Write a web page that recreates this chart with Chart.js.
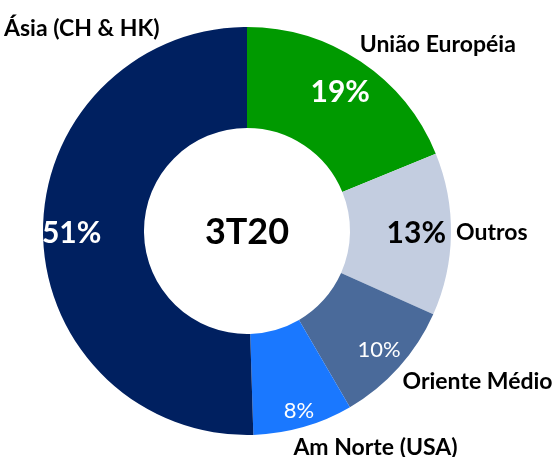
<!DOCTYPE html>
<html>
<head>
<meta charset="utf-8">
<script src="https://cdn.jsdelivr.net/npm/chart.js@4/dist/chart.umd.min.js"></script>
<style>
  html, body { margin: 0; padding: 0; background: #fff; }
  canvas { display: block; }
</style>
</head>
<body>
<canvas id="chart" width="558" height="457"></canvas>
<script>
  // regions, clockwise from 12 o'clock
  var regions = ["União Européia", "Outros", "Oriente Médio", "Am Norte (USA)", "Ásia (CH & HK)"];
  var shares = [19, 13, 10, 8, 51];
  var colors = ["#009A00", "#C3CDE0", "#4A6A9A", "#1A78FF", "#002060"];
  var centerTitle = "3T20";

  // label look: value text (radius fraction, font, colour) and name anchor relative to centre (in radii)
  var valueStyle = [
    { r: 0.82, font: "bold 30px Lato", color: "#fff" },
    { r: 0.83, font: "bold 30px Lato", color: "#000" },
    { r: 0.87, font: "22px Lato", color: "#fff" },
    { r: 0.92, font: "22px Lato", color: "#fff" },
    { r: 0.86, font: "bold 30px Lato", color: "#fff" }
  ];
  var nameAnchor = [
    { x: 0.935, y: -0.915 },
    { x: 1.20, y: 0.01 },
    { x: 1.13, y: 0.74 },
    { x: 0.63, y: 1.06 },
    { x: -0.81, y: -0.99 }
  ];

  var labelPlugin = {
    id: "donutLabels",
    afterDraw: function (chart) {
      var ctx = chart.ctx;
      var arcs = chart.getDatasetMeta(0).data;
      ctx.save();
      ctx.textAlign = "center";
      ctx.textBaseline = "middle";
      arcs.forEach(function (arc, i) {
        var p = arc.getProps(["x", "y", "startAngle", "endAngle", "outerRadius"], true);
        var mid = (p.startAngle + p.endAngle) / 2;
        var st = valueStyle[i];
        ctx.font = st.font;
        ctx.fillStyle = st.color;
        ctx.fillText(shares[i] + "%", p.x + Math.cos(mid) * p.outerRadius * st.r,
          p.y + Math.sin(mid) * p.outerRadius * st.r);
        ctx.font = "bold 23px Lato";
        ctx.fillStyle = "#000";
        ctx.fillText(regions[i], p.x + nameAnchor[i].x * p.outerRadius,
          p.y + nameAnchor[i].y * p.outerRadius);
      });
      var a0 = arcs[0];
      ctx.font = "bold 36px Lato";
      ctx.fillStyle = "#000";
      ctx.fillText(centerTitle, a0.x, a0.y + 1);
      ctx.restore();
    }
  };

  new Chart(document.getElementById("chart"), {
    type: "doughnut",
    data: {
      labels: regions,
      datasets: [{
        data: shares,
        backgroundColor: colors,
        borderWidth: 0,
        hoverOffset: 0
      }]
    },
    options: {
      responsive: false,
      animation: false,
      events: [],
      cutout: "50.5%",
      layout: { padding: { left: 43, right: 107, top: 27, bottom: 22 } },
      plugins: { legend: { display: false }, tooltip: { enabled: false } }
    },
    plugins: [labelPlugin]
  });
</script>
</body>
</html>
